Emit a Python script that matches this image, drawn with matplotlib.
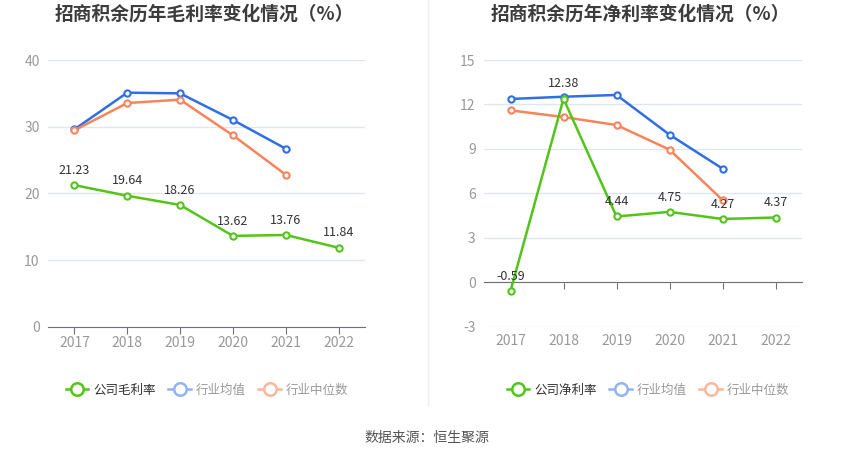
import matplotlib
matplotlib.use("Agg")
import matplotlib.pyplot as plt
from matplotlib.lines import Line2D

plt.rcParams['font.family'] = ['Noto Sans CJK SC', 'DejaVu Sans']

years = ['2017', '2018', '2019', '2020', '2021', '2022']

gross_company = [21.23, 19.64, 18.26, 13.62, 13.76, 11.84]
gross_ind_mean = [29.6, 35.1, 35.0, 31.0, 26.7]
gross_ind_median = [29.45, 33.55, 34.05, 28.7, 22.8]

net_company = [-0.59, 12.38, 4.44, 4.75, 4.27, 4.37]
net_ind_mean = [12.37, 12.52, 12.64, 9.96, 7.67]
net_ind_median = [11.6, 11.15, 10.61, 8.95, 5.55]

titles = ['招商积余历年毛利率变化情况（%）', '招商积余历年净利率变化情况（%）']
legend_labels = [['公司毛利率', '行业均值', '行业中位数'],
                 ['公司净利率', '行业均值', '行业中位数']]
source_text = '数据来源：恒生聚源'

GREEN = '#52c41a'
BLUE = '#2f6fe6'
ORANGE = '#f7845a'
BLUE_L = '#93b3f3'
ORANGE_L = '#fbb79e'
GRID = '#e0e6f1'
TICK = '#999999'
AXIS = '#6e7079'

fig = plt.figure(figsize=(8.5, 4.59), dpi=100)
W, H = 850, 459

def ax_rect(x0, x1, y0, y1):
    return [x0 / W, 1 - y1 / H, (x1 - x0) / W, (y1 - y0) / H]

ax1 = fig.add_axes(ax_rect(48, 365, 60, 326.7))
ax2 = fig.add_axes(ax_rect(484, 802, 60, 326.7))

xs = list(range(len(years)))

def style(ax, ylim, yticks):
    ax.set_xlim(-0.5, len(years) - 0.5)
    ax.set_ylim(*ylim)
    ax.set_yticks(yticks)
    ax.set_yticklabels([str(v) for v in yticks])
    ax.grid(axis='y', color=GRID, linewidth=0.9)
    ax.set_axisbelow(True)
    for s in ['top', 'right', 'left']:
        ax.spines[s].set_visible(False)
    ax.tick_params(axis='y', length=0, colors=TICK, labelsize=10, pad=6)

def draw(ax, comp, mean, med):
    kw = dict(marker='o', markersize=4.5, markerfacecolor='white', markeredgewidth=1.5,
              linewidth=1.8, clip_on=False)
    ax.plot(xs[:len(mean)], mean, color=BLUE, zorder=3, **kw)
    ax.plot(xs[:len(med)], med, color=ORANGE, zorder=3, **kw)
    ax.plot(xs, comp, color=GREEN, zorder=4, **kw)
    for x, v in zip(xs, comp):
        ax.annotate(f'{v:.2f}', (x, v), xytext=(0, 6), textcoords='offset points',
                    ha='center', va='bottom', fontsize=9, color='#333333', zorder=5)

# Left chart
style(ax1, (0, 40), [0, 10, 20, 30, 40])
ax1.spines['bottom'].set_color(AXIS)
ax1.set_xticks(xs)
ax1.set_xticklabels(years)
ax1.tick_params(axis='x', length=5, color=AXIS, labelcolor=TICK, labelsize=10, pad=2)
draw(ax1, gross_company, gross_ind_mean, gross_ind_median)

# Right chart
style(ax2, (-3, 15), [-3, 0, 3, 6, 9, 12, 15])
ax2.spines['bottom'].set_position(('data', 0))
ax2.spines['bottom'].set_color(AXIS)
ax2.set_xticks(xs)
ax2.tick_params(axis='x', length=5, color=AXIS, labelbottom=False)
sec = ax2.secondary_xaxis('bottom')
sec.set_xticks(xs)
sec.set_xticklabels(years)
sec.tick_params(axis='x', length=0, colors=TICK, labelsize=10, pad=5.5)
sec.spines['bottom'].set_visible(False)
draw(ax2, net_company, net_ind_mean, net_ind_median)

# Titles
fig.text(204 / W, 1 - 14 / H, titles[0], ha='center', va='center', fontsize=13.5,
         fontweight='bold', color='#3c3c3c')
fig.text(640 / W, 1 - 14 / H, titles[1], ha='center', va='center', fontsize=13.5,
         fontweight='bold', color='#3c3c3c')

# Separator
fig.add_artist(Line2D([428 / W, 428 / W], [1 - 405 / H, 1.0], color='#eeeeee', linewidth=1))

# Legends
def make_handles(colors):
    return [Line2D([0], [0], color=c, marker='o', markersize=9, markerfacecolor='white',
                   markeredgewidth=1.8, linewidth=1.8) for c in colors]

for labels, cx in [(legend_labels[0], 207), (legend_labels[1], 648)]:
    leg = fig.legend(make_handles([GREEN, BLUE_L, ORANGE_L]), labels, loc='center',
                     bbox_to_anchor=(cx / W, 1 - 390 / H), ncol=3, frameon=False,
                     fontsize=9, handlelength=1.8, handletextpad=0.4, columnspacing=1.0)
    for t, c in zip(leg.get_texts(), ['#333333', '#999999', '#999999']):
        t.set_color(c)

fig.text(427 / W, 1 - 438 / H, source_text, ha='center', va='center', fontsize=10,
         color='#555555')

fig.savefig('out.png', dpi=100, facecolor='white')
